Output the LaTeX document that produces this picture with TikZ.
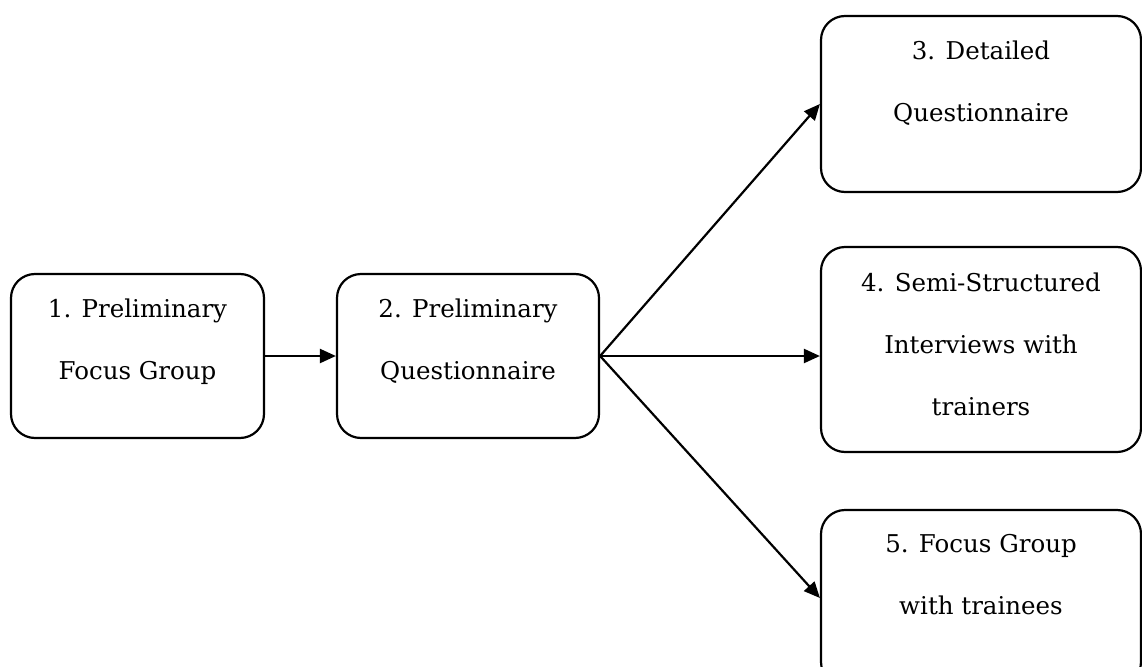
\documentclass[tikz,border=0pt]{standalone}
\usepackage{fontspec}
\setmainfont{DejaVu Serif}
\usetikzlibrary{arrows.meta}
\tikzset{
  box/.style={draw=black, line width=2.2pt, rounded corners=24pt, inner sep=0pt},
  lbl/.style={anchor=north, align=center, inner sep=0pt, font=\fontsize{24.5}{62}\selectfont},
  arr/.style={line width=2.2pt, -{Triangle[length=16pt,width=14pt]}}
}
\begin{document}
\begin{tikzpicture}[x=1pt,y=-1pt]
\useasboundingbox (0,0) rectangle (1142,666);
\node[box, minimum width=253pt, minimum height=164pt] (b1) at (137.5,356) {};
\node[box, minimum width=262pt, minimum height=164pt] (b2) at (468,356) {};
\node[box, minimum width=320pt, minimum height=176pt] (b3) at (981,104) {};
\node[box, minimum width=320pt, minimum height=205pt] (b4) at (981,349.5) {};
\node[box, minimum width=320pt, minimum height=176pt] (b5) at (981,598) {};
\node[lbl] (t1) at ([yshift=-26pt]b1.north) {1. Preliminary\\Focus Group};
\node[lbl] (t2) at ([yshift=-26pt]b2.north) {2. Preliminary\\Questionnaire};
\node[lbl] (t3) at ([yshift=-26pt]b3.north) {3. Detailed\\Questionnaire};
\node[lbl] (t4) at ([yshift=-27pt]b4.north) {4. Semi-Structured\\Interviews with\\trainers};
\node[lbl] (t5) at ([yshift=-25pt]b5.north) {5. Focus Group\\with trainees};
\draw[arr] (b1.east) -- (b2.west);
\draw[arr] (b2.east) -- (b3.west);
\draw[arr] (b2.east) -- (b2.east -| b4.west);
\draw[arr] (b2.east) -- (b5.west);
\end{tikzpicture}
\end{document}
